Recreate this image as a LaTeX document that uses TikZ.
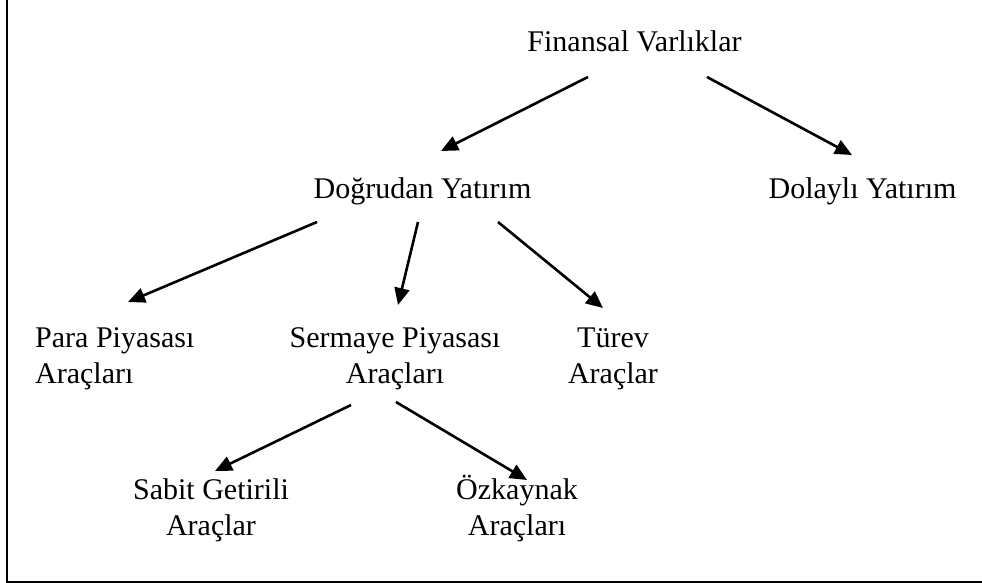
\documentclass[tikz,border=0pt]{standalone}
\usepackage{fontspec}
\setmainfont{Liberation Serif}
\usetikzlibrary{arrows.meta}
\begin{document}
\begin{tikzpicture}[x=1pt,y=-1pt,
  lbl/.style={inner sep=0pt,font=\fontsize{30}{36}\selectfont},
  arr/.style={line width=2.6pt,-{Triangle[length=17pt,width=15pt]}},
  frame/.style={line width=2.6pt}]
\useasboundingbox (0,0) rectangle (982,583);
% open frame: left and bottom edges
\draw[frame] (7,0) -- (7,582) -- (982,582);

% labels (anchored on their first baseline)
\node[lbl,anchor=base] (fin) at (634.5,52) {Finansal Varlıklar};
\node[lbl,anchor=base] (dog) at (422.5,198) {Doğrudan Yatırım};
\node[lbl,anchor=base] (dol) at (862.5,198) {Dolaylı Yatırım};
\node[lbl,anchor=base west] (para) at (35,347)
  {\begin{tabular}[t]{@{}l@{}}Para Piyasası\\Araçları\end{tabular}};
\node[lbl,anchor=base] (serm) at (395,347)
  {\begin{tabular}[t]{@{}c@{}}Sermaye Piyasası\\Araçları\end{tabular}};
\node[lbl,anchor=base] (turev) at (613,347)
  {\begin{tabular}[t]{@{}c@{}}Türev\\Araçlar\end{tabular}};
\node[lbl,anchor=base] (sabit) at (211,499)
  {\begin{tabular}[t]{@{}c@{}}Sabit Getirili\\Araçlar\end{tabular}};
\node[lbl,anchor=base] (ozk) at (517,499)
  {\begin{tabular}[t]{@{}c@{}}Özkaynak\\Araçları\end{tabular}};

% connectors
\draw[arr] ([shift={(-46.5,25)}]fin.base) -- ([shift={(18.5,-47)}]dog.base);
\draw[arr] ([shift={(72.5,25)}]fin.base) -- ([shift={(-10.5,-43)}]dol.base);
\draw[arr] ([shift={(-105.5,24)}]dog.base) -- ([shift={(93,-45)}]para.base west);
\draw[arr] ([shift={(-4.5,24)}]dog.base) -- ([shift={(3,-42)}]serm.base);
\draw[arr] ([shift={(75.5,24)}]dog.base) -- ([shift={(-10,-39)}]turev.base);
\draw[arr] ([shift={(-44,58)}]serm.base) -- ([shift={(4,-28)}]sabit.base);
\draw[arr] ([shift={(1,55)}]serm.base) -- ([shift={(10,-19)}]ozk.base);
\end{tikzpicture}
\end{document}
